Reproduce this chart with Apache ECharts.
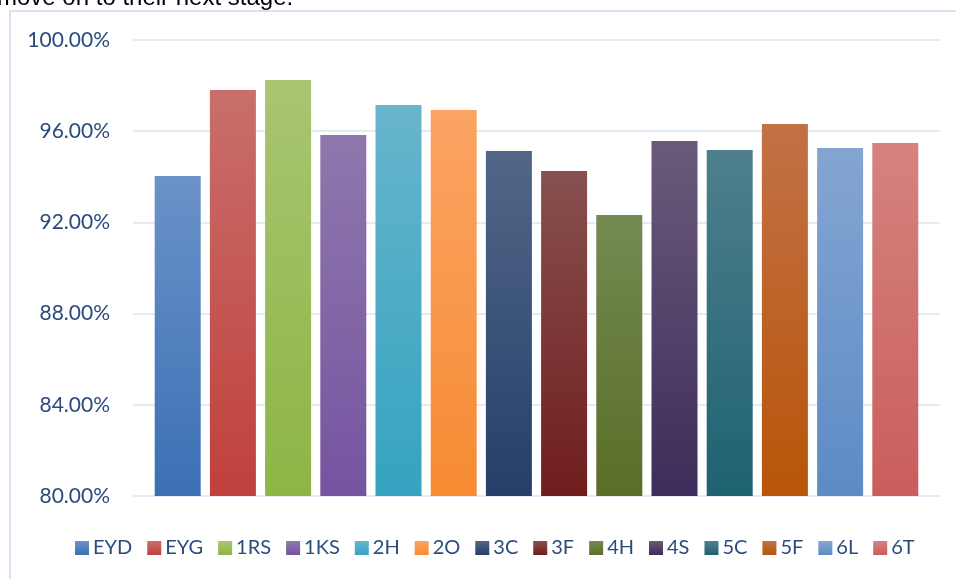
<!DOCTYPE html>
<html>
<head>
<meta charset="utf-8">
<script src="https://cdn.jsdelivr.net/npm/echarts@6/dist/echarts.min.js"></script>
<style>html,body{margin:0;padding:0;background:#fff;}#c{width:956px;height:579px;}</style>
</head>
<body>
<div id="c"></div>
<script>
const names = ['EYD','EYG','1RS','1KS','2H','2O','3C','3F','4H','4S','5C','5F','6L','6T'];
const values = [94.04, 97.81, 98.25, 95.83, 97.15, 96.93, 95.13, 94.25, 92.32, 95.57, 95.18, 96.32, 95.26, 95.48];
const topColors = ['#6b92c9','#c96f6b','#a9c571','#8e78ad','#67b5cc','#fba464','#526787','#87514f','#738a52','#6a5a7a','#4f7f8c','#c27147','#84a5d2','#d5837f'];
const bottomColors = ['#3b70b4','#c0403c','#8db545','#7653a0','#35a3c0','#f68b33','#253f6a','#701d1d','#5a6e26','#3e2c5a','#1e6272','#b85508','#5d8bc5','#c95e5c'];
const yTicks = [80, 84, 88, 92, 96, 100];

const chart = echarts.init(document.getElementById('c'));
const series = names.map((n, i) => ({
  name: n,
  type: 'bar',
  data: [values[i]],
  barWidth: 46,
  barGap: '20%',
  itemStyle: {
    color: new echarts.graphic.LinearGradient(0, 0, 0, 1, [
      {offset: 0, color: topColors[i]},
      {offset: 1, color: bottomColors[i]}
    ])
  }
}));

chart.setOption({
  animation: false,
  grid: {left: 133, right: 16, top: 40, bottom: 83, containLabel: false},
  xAxis: {
    type: 'category', data: [''],
    axisLine: {show: false}, axisTick: {show: false}, axisLabel: {show: false}
  },
  yAxis: {
    type: 'value', min: yTicks[0], max: yTicks[yTicks.length - 1], interval: 4,
    axisLine: {show: false}, axisTick: {show: false},
    axisLabel: {
      formatter: v => v.toFixed(2) + '%',
      color: '#2b4b7d', fontFamily: 'Lato', fontSize: 21, margin: 23
    },
    splitLine: {lineStyle: {color: '#d9e5f4', width: 1.5}}
  },
  legend: {
    data: names, bottom: 16, left: 70,
    icon: 'rect', itemWidth: 14, itemHeight: 14, itemGap: 15,
    textStyle: {color: '#2b4b7d', fontFamily: 'Lato', fontSize: 20, padding: [0,0,0,-1]}
  },
  graphic: [
    {type: 'rect', shape: {x: 10, y: 11, width: 960, height: 600}, style: {fill: 'none', stroke: '#d6e3f3', lineWidth: 2}, z: -1},
    {type: 'text', style: {x: -3, y: 10, verticalAlign: 'bottom', text: 'move on to their next stage.', font: '24px "Liberation Sans"', fill: '#000'}}
  ],
  series: series
});
</script>
</body>
</html>
